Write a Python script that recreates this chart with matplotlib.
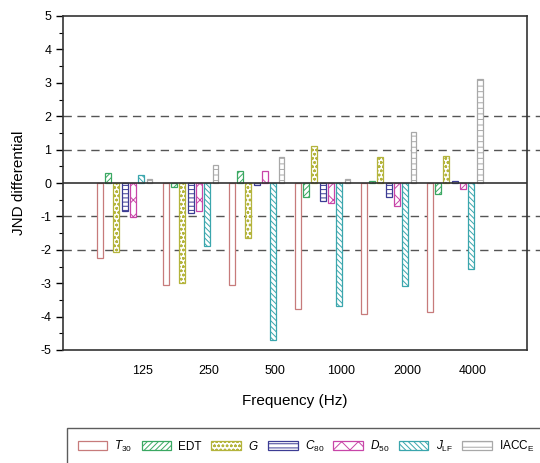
import numpy as np
import matplotlib
matplotlib.use("Agg")
from matplotlib import pyplot as plt

plt.rcParams['font.family'] = ['Liberation Sans', 'DejaVu Sans']
plt.rcParams['mathtext.fontset'] = 'custom'
plt.rcParams['mathtext.rm'] = 'Liberation Sans'
plt.rcParams['mathtext.it'] = 'Liberation Sans:italic'
plt.rcParams['hatch.linewidth'] = 0.7
plt.rcParams['axes.unicode_minus'] = False

# data
freqs = ["125", "250", "500", "1000", "2000", "4000"]
labels = ["$T_{30}$", "EDT", "$G$", "$C_{80}$", "$D_{50}$", "$J_{\\mathrm{LF}}$", "IACC$_{\\mathrm{E}}$"]
t30 = [-2.25, -3.06, -3.04, -3.78, -3.93, -3.86]
edt = [0.29, -0.11, 0.36, -0.41, 0.07, -0.33]
g = [-2.07, -2.98, -1.64, 1.11, 0.79, 0.80]
c80 = [-0.83, -0.89, -0.06, -0.55, -0.43, 0.07]
d50 = [-1.03, -0.83, 0.37, -0.61, -0.68, -0.17]
jlf = [0.24, -1.89, -4.70, -3.67, -3.07, -2.57]
iacc = [0.12, 0.54, 0.77, 0.13, 1.52, 3.12]
series = [t30, edt, g, c80, d50, jlf, iacc]

colors = ["#c77b7b", "#3aa862", "#b4b43c", "#3c3c94", "#c845a8", "#3aa6ad", "#a8a8a8"]
hatches = ["", "//////", "oooo", "----", "xx", "\\\\\\\\\\\\", "---"]

fig = plt.figure(figsize=(5.4, 4.63), dpi=100)
ax = fig.add_axes([63/540, 1-350/463, (527-63)/540, (350-16)/463])

x = np.arange(len(freqs))
step = 0.126
w = 0.09
for j, vals in enumerate(series):
    ax.bar(x + (j - 5.2)*step, vals, width=w, facecolor="white",
           edgecolor=colors[j], hatch=hatches[j], linewidth=0.9,
           label=labels[j], zorder=2)

ax.axhline(0, color="#333333", lw=1.2, zorder=3)
for yv in [2, 1, -1, -2]:
    ax.plot([0, 1.03], [yv, yv], transform=ax.get_yaxis_transform(),
            color="#555555", lw=1, dashes=(6, 4), clip_on=False, zorder=1)

ax.set_xlim(-1.21, 5.82)
ax.set_ylim(-5, 5)
ax.set_xticks(x)
ax.set_xticklabels(freqs, fontsize=9)
ax.tick_params(axis='x', length=0, pad=11)
ax.set_yticks(range(-5, 6))
ax.set_yticks(np.arange(-4.5, 5, 1), minor=True)
ax.tick_params(axis='y', which='major', length=5, direction='out', labelsize=9, width=1)
ax.tick_params(axis='y', which='minor', length=3, direction='out', width=0.8)
for s in ax.spines.values():
    s.set_color("#333333")
    s.set_linewidth(1.2)

ax.set_xlabel("Frequency (Hz)", fontsize=11, labelpad=12)
ax.set_ylabel("JND differential", fontsize=11, labelpad=10)

leg = fig.legend(loc="upper left", bbox_to_anchor=(67/540, 1-428/463), ncol=7,
                 fontsize=8.5, frameon=True, fancybox=False, edgecolor="#333333",
                 handlelength=2.5, handleheight=0.7, handletextpad=0.6,
                 columnspacing=0.8, borderpad=0.9, borderaxespad=0)
leg.get_frame().set_linewidth(1.0)

fig.savefig("out.png", dpi=100)
